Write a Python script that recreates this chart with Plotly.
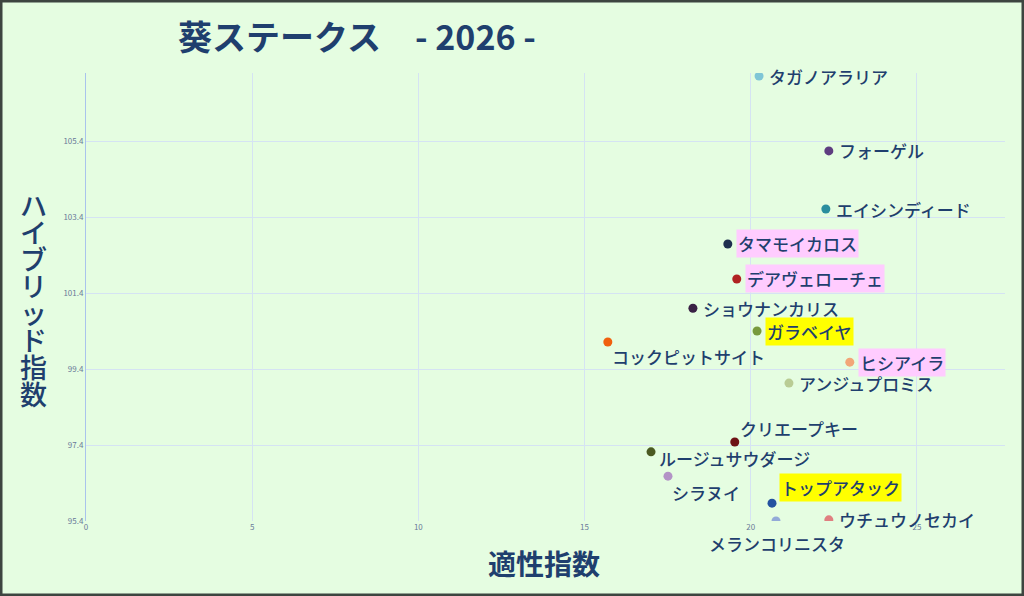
import plotly.graph_objects as go

# 葵ステークス 2026 - 適性指数 vs ハイブリッド指数

horses = ['タガノアラリア', 'フォーゲル', 'エイシンディード', 'タマモイカロス',
          'デアヴェローチェ', 'ショウナンカリス', 'ガラベイヤ', 'コックピットサイト',
          'ヒシアイラ', 'アンジュプロミス', 'クリエープキー', 'ルージュサウダージ',
          'シラヌイ', 'トップアタック', 'メランコリニスタ', 'ウチュウノセカイ']
tekisei = [20.25, 22.35, 22.26, 19.31, 19.58, 18.26, 20.19, 15.70,
           22.98, 21.15, 19.52, 17.00, 17.51, 20.64, 20.76, 22.35]
hybrid = [107.11, 105.14, 103.61, 102.69, 101.77, 101.00, 100.40, 100.11,
          99.58, 99.03, 97.48, 97.22, 96.58, 95.87, 95.40, 95.43]
colors = ['#7fc6d6', '#5e3d80', '#2a8e9e', '#1e2f4f', '#b02222', '#3a2145',
          '#789a3e', '#f0600e', '#f2a678', '#b9cc94', '#6e1216', '#4b5a22',
          '#b393c6', '#2452a0', '#93aad8', '#e07f80']
highlight = {'タマモイカロス': '#ffccff', 'デアヴェローチェ': '#ffccff',
             'ヒシアイラ': '#ffccff', 'ガラベイヤ': '#ffff00',
             'トップアタック': '#ffff00'}
yticks = [95.4, 97.4, 99.4, 101.4, 103.4, 105.4]
xticks = [0, 5, 10, 15, 20, 25]

# label placement: (xanchor, xshift, yshift)
label_pos = {
    'コックピットサイト': ('left', 2, -14),
    'クリエープキー': ('left', 3, 13),
    'ルージュサウダージ': ('left', 6, -7),
    'シラヌイ': ('left', 2, -16),
    'トップアタック': ('left', 7, 16),
    'メランコリニスタ': ('center', 1, -22),
}

navy = '#1f3f6e'

fig = go.Figure()

fig.add_trace(go.Scatter(x=tekisei, y=hybrid, mode='markers',
                         marker=dict(color=colors, size=9, line=dict(width=0)),
                         hoverinfo='text', text=horses, showlegend=False))

for name, xv, yv in zip(horses, tekisei, hybrid):
    xa, xs, ys = label_pos.get(name, ('left', 8, 0))
    fig.add_annotation(x=xv, y=yv, text=name, showarrow=False,
                       xanchor=xa, yanchor='middle', xshift=xs, yshift=ys,
                       font=dict(family='Noto Sans CJK JP', size=17, color=navy, weight=500),
                       bgcolor=highlight.get(name, 'rgba(0,0,0,0)'), borderpad=1)

# title
fig.add_annotation(text='<b>葵ステークス　- 2026 -</b>', xref='paper', yref='paper',
                   x=(176 - 86) / 919, y=1 + 37 / 448, xanchor='left', yanchor='middle',
                   showarrow=False,
                   font=dict(family='Noto Sans CJK JP', size=34, color=navy))

# vertical y-axis title, one upright character per line
ytitle = 'ハイブリッド指数'
for i, ch in enumerate(ytitle):
    fig.add_annotation(text=ch, xref='paper', yref='paper',
                       x=(33 - 86) / 919, y=(521 - 204 - i * 27) / 448,
                       xanchor='center', yanchor='middle', showarrow=False,
                       font=dict(family='Noto Sans CJK JP', size=27, color=navy, weight=500))

# x-axis title
fig.add_annotation(text='<b>適性指数</b>', xref='paper', yref='paper',
                   x=(544 - 86) / 919, y=-42 / 448, xanchor='center', yanchor='middle',
                   showarrow=False,
                   font=dict(family='Noto Sans CJK JP', size=28, color=navy))

# frame around the whole picture
fig.add_shape(type='rect', xref='paper', yref='paper',
              x0=-85 / 919, x1=1 + 18 / 919, y0=-74 / 448, y1=1 + 72 / 448,
              line=dict(color='#3d4540', width=3), layer='above')

fig.update_layout(
    width=1024, height=596,
    margin=dict(l=86, r=19, t=73, b=75),
    paper_bgcolor='#e5fde1', plot_bgcolor='#e5fde1',
    font=dict(family='Noto Sans CJK JP'),
    xaxis=dict(range=[0, 27.65], tickvals=xticks, showgrid=True,
               gridcolor='#d5e3f3', gridwidth=1, zeroline=False,
               showline=False, ticks='', tickfont=dict(size=8, color='#6a7a99')),
    yaxis=dict(range=[95.4, 107.19], tickvals=yticks, ticktext=[str(v) for v in yticks],
               showgrid=True, gridcolor='#d5e3f3', gridwidth=1, zeroline=False,
               showline=True, linecolor='#a9c3ec', linewidth=1, ticks='',
               tickfont=dict(size=8, color='#6a7a99')),
)

fig.write_html('out.html', config={'displayModeBar': False},
               post_script="document.body.style.margin='0';")
